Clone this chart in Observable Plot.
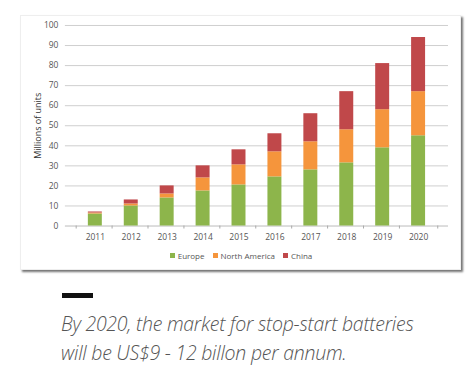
<!DOCTYPE html>
<html><head><meta charset="utf-8">
<script src="https://cdn.jsdelivr.net/npm/d3@7"></script>
<script src="https://cdn.jsdelivr.net/npm/@observablehq/plot@0.6"></script>
<style>
body{margin:0;background:#fff;width:466px;height:371px;position:relative;overflow:hidden;font-family:"Open Sans",sans-serif}
#card{position:absolute;left:20px;top:15px;width:439px;height:253px;background:#fff;border:1px solid #eee;box-shadow:2px 2px 2px rgba(0,0,0,0.55)}
#chart{position:absolute;left:0;top:0}
#legend{position:absolute;left:0;top:234px;width:440px;display:flex;justify-content:center;gap:8px;font-size:8px;color:#555;font-family:"Open Sans",sans-serif}
#legend span i{display:inline-block;width:5px;height:5px;margin-right:3px;vertical-align:1px}
#dash{position:absolute;left:62px;top:293px;width:31px;height:5px;background:#111}
#caption{position:absolute;left:61px;top:309px;width:400px;font-style:italic;font-weight:300;font-size:19.5px;line-height:29px;color:#555;letter-spacing:-0.25px}
</style></head>
<body>
<div id="card"><div id="chart"></div><div id="legend"></div></div>
<div id="dash"></div>
<div id="caption">By 2020, the market for stop-start batteries<br>will be US$9 - 12 billon per annum.</div>
<script>
const years = ["2011","2012","2013","2014","2015","2016","2017","2018","2019","2020"];
const regions = ["Europe","North America","China"];
const colors = ["#8db54b","#f5953c","#c0484a"];
const europe = [6, 10, 14, 17.5, 20.5, 24.5, 28, 31.5, 39, 45];
const northAmerica = [0.5, 1, 2, 6.5, 10, 12.5, 14, 16.5, 19, 22];
const china = [0.5, 2, 4, 6, 7.5, 9, 14, 19, 23, 27];
const yTicks = [0,10,20,30,40,50,60,70,80,90,100];

const series = [europe, northAmerica, china];
const data = [];
regions.forEach((r, i) => years.forEach((y, j) => data.push({year: y, region: r, value: series[i][j]})));

const chart = Plot.plot({
  width: 440, height: 232,
  marginLeft: 44, marginRight: 12, marginTop: 9, marginBottom: 22,
  style: {fontFamily: "Open Sans, sans-serif", fontSize: "8.5px", color: "#555", background: "transparent"},
  x: {domain: years, padding: 0.61, label: null, tickSize: 0, tickPadding: 8},
  y: {domain: [0, 100], ticks: yTicks, label: "Millions of units", labelAnchor: "center", labelArrow: "none", labelOffset: 31, tickSize: 0, tickPadding: 7},
  color: {domain: regions, range: colors},
  marks: [
    Plot.ruleY(yTicks.slice(1), {stroke: "#cfcfcf", strokeWidth: 1}),
    Plot.ruleY([0], {stroke: "#bbb", strokeWidth: 1}),
    Plot.ruleX(years, {x: d => d, y1: 0, y2: -1.5, dx: -19.2, stroke: "#aaa"}),
    Plot.ruleX(years.slice(-1), {x: d => d, y1: 0, y2: -1.5, dx: 19.2, stroke: "#aaa"}),
    Plot.barY(data, Plot.stackY({x: "year", y: "value", fill: "region", order: regions}))
  ]
});
chart.querySelectorAll('[aria-label="y-axis label"] text').forEach(t => { t.style.fontSize = "9px"; t.style.fill = "#333"; });
document.getElementById("chart").appendChild(chart);

const leg = document.getElementById("legend");
regions.forEach((r, i) => {
  const s = document.createElement("span");
  s.innerHTML = `<i style="background:${colors[i]}"></i>${r}`;
  leg.appendChild(s);
});
</script>
</body></html>
